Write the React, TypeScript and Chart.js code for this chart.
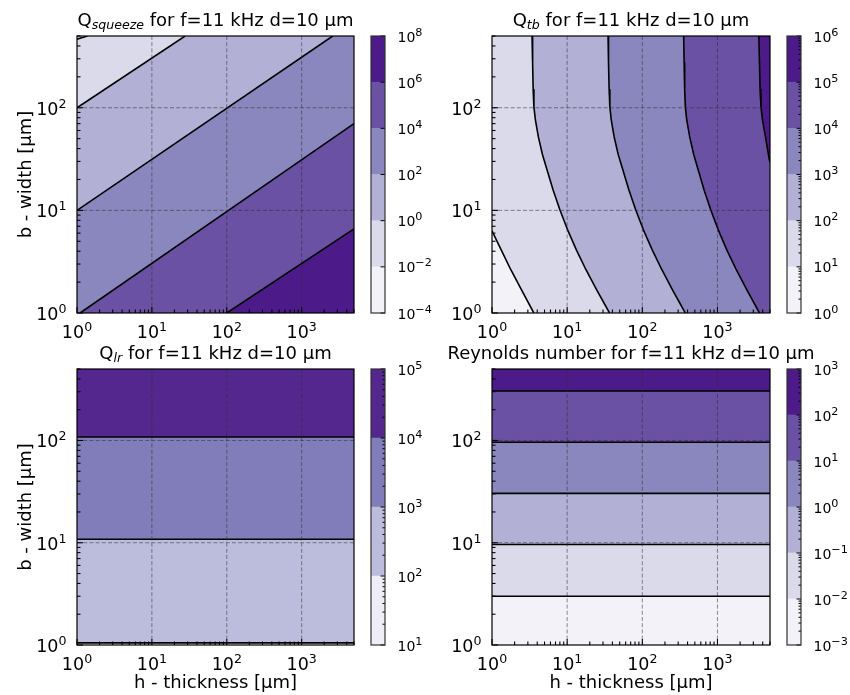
import React, { useEffect, useRef } from 'react';
import { Chart, registerables } from 'chart.js';

Chart.register(...registerables);

type Pt = [number, number];

const W = 850;
const HT = 695;
const FONT = '"DejaVu Sans", Verdana, sans-serif';

// ---- axis ranges and ticks ----
const H_MIN = 1;
const H_MAX = 5000;
const B_MIN = 1;
const B_MAX = 500;
const hTickExp = [0, 1, 2, 3];
const bTickExp = [0, 1, 2];
const minorMult = [2, 3, 4, 5, 6, 7, 8, 9];

// ---- Panel 1: Q_squeeze ----
const sqLevelExp = [-4, -2, 0, 2, 4, 6, 8];
const sqColors = ['#f3f2f8', '#dadaeb', '#b2b1d5', '#8a87bf', '#6a51a3', '#4d1a89'];
const sqLine0: Pt[] = [[1, 466], [1.38, 500]];
const sqLine1: Pt[] = [[1, 100], [27.8, 500]];
const sqLine2: Pt[] = [[1, 10], [2600, 500]];
const sqLine3: Pt[] = [[1.1, 1], [5000, 70]];
const sqLine4: Pt[] = [[100, 1], [5000, 6.6]];

// ---- Panel 2: Q_tb ----
const tbLevelExp = [0, 1, 2, 3, 4, 5, 6];
const tbColors = ['#f3f2f8', '#dadaeb', '#b2b1d5', '#8a87bf', '#6a51a3', '#4d1a89'];
const tbCurve1: Pt[] = [[1, 6.3], [1.33, 4.1], [1.78, 2.64], [2.46, 1.69], [3.6, 1]];
const tbCurve2: Pt[] = [[3.41, 500], [3.47, 274], [3.53, 150], [3.61, 102], [3.78, 76], [4.14, 52], [4.69, 35], [5.38, 25], [6.47, 16], [8.02, 10.1], [10.1, 6.5], [13.3, 4.1], [17.8, 2.64], [24.6, 1.69], [36.6, 1]];
const tbCurve3: Pt[] = [[35, 500], [35.5, 274], [36.2, 150], [37, 102], [38.6, 76], [42.2, 52], [47.8, 35], [54.9, 25], [66, 16], [81.8, 10.1], [103, 6.5], [136, 4.1], [182, 2.64], [251, 1.69], [373, 1]];
const tbCurve4: Pt[] = [[355, 500], [360, 274], [366, 150], [374, 102], [390, 76], [427, 52], [483, 35], [552, 25], [661, 16], [814, 10.1], [1020, 6.5], [1335, 4.1], [1780, 2.64], [2450, 1.69], [3620, 1]];
const tbCurve5: Pt[] = [[3550, 500], [3620, 274], [3690, 150], [3790, 102], [3970, 76], [4350, 52], [4900, 31], [5000, 29.5]];

// ---- Panel 3: Q_lr ----
const lrLevelExp = [1, 2, 3, 4, 5];
const lrColors = ['#efedf5', '#bcbddc', '#807dba', '#54278f'];
const lrContourB = [1.05, 10.8, 108];

// ---- Panel 4: Reynolds number ----
const reLevelExp = [-3, -2, -1, 0, 1, 2, 3];
const reColors = ['#f3f2f8', '#dadaeb', '#b2b1d5', '#8a87bf', '#6a51a3', '#4d1a89'];
const reContourB = [3.0, 9.6, 30.4, 96, 305];

// ---- layout (plot rectangles, colorbar x-extent) ----
const RECTS = [
  { l: 77, t: 36, r: 354, b: 313, cbl: 371, cbr: 385 },
  { l: 492, t: 36, r: 770, b: 313, cbl: 787, cbr: 801 },
  { l: 77, t: 369, r: 354, b: 645, cbl: 371, cbr: 385 },
  { l: 492, t: 369, r: 770, b: 645, cbl: 787, cbr: 801 },
];

const fullRect: Pt[] = [[H_MIN, B_MIN], [H_MIN, B_MAX], [H_MAX, B_MAX], [H_MAX, B_MIN]];
const belowRight = (line: Pt[]): Pt[] => [...line, [H_MAX, B_MAX], [H_MAX, B_MIN], [H_MIN, B_MIN]];
const rightOf = (line: Pt[]): Pt[] => [...line, [H_MAX, B_MIN], [H_MAX, B_MAX], [H_MIN, B_MAX]];
const above = (b: number): Pt[] => [[H_MIN, b], [H_MAX, b], [H_MAX, B_MAX], [H_MIN, B_MAX]];
const hLine = (b: number): Pt[] => [[H_MIN, b], [H_MAX, b]];

interface Spec {
  rect: typeof RECTS[number];
  titleMain: string;
  titleSub: string;
  titleRest: string;
  layers: Pt[][];
  colors: string[];
  lines: Pt[][];
  levelExp: number[];
  cbMinor: boolean;
  xLabel: boolean;
  yLabel: boolean;
}

const sqLines = [sqLine0, sqLine1, sqLine2, sqLine3, sqLine4];
const tbCurves = [tbCurve1, tbCurve2, tbCurve3, tbCurve4, tbCurve5];

const SPECS: Spec[] = [
  {
    rect: RECTS[0], titleMain: 'Q', titleSub: 'squeeze', titleRest: ' for f=11 kHz d=10 µm',
    layers: [fullRect, ...sqLines.map(belowRight)], colors: sqColors, lines: sqLines,
    levelExp: sqLevelExp, cbMinor: false, xLabel: false, yLabel: true,
  },
  {
    rect: RECTS[1], titleMain: 'Q', titleSub: 'tb', titleRest: ' for f=11 kHz d=10 µm',
    layers: [fullRect, ...tbCurves.map(rightOf)], colors: tbColors, lines: tbCurves,
    levelExp: tbLevelExp, cbMinor: true, xLabel: false, yLabel: false,
  },
  {
    rect: RECTS[2], titleMain: 'Q', titleSub: 'lr', titleRest: ' for f=11 kHz d=10 µm',
    layers: [fullRect, ...lrContourB.map(above)], colors: lrColors, lines: lrContourB.map(hLine),
    levelExp: lrLevelExp, cbMinor: true, xLabel: true, yLabel: true,
  },
  {
    rect: RECTS[3], titleMain: 'Reynolds number for f=11 kHz d=10 µm', titleSub: '', titleRest: '',
    layers: [fullRect, ...reContourB.map(above)], colors: reColors, lines: reContourB.map(hLine),
    levelExp: reLevelExp, cbMinor: true, xLabel: true, yLabel: false,
  },
];

function drawPow(ctx: CanvasRenderingContext2D, exp: number, x: number, y: number, size: number, align: 'left' | 'center' | 'right', ratio = 0.72, raise = 0.4) {
  const base = '10';
  const es = exp < 0 ? '\u2212' + String(-exp) : String(exp);
  const ss = size * ratio;
  ctx.font = `${size}px ${FONT}`;
  const wb = ctx.measureText(base).width;
  ctx.font = `${ss}px ${FONT}`;
  const we = ctx.measureText(es).width;
  const tot = wb + we;
  const x0 = align === 'left' ? x : align === 'center' ? x - tot / 2 : x - tot;
  ctx.textAlign = 'left';
  ctx.textBaseline = 'alphabetic';
  ctx.fillStyle = '#000';
  ctx.font = `${size}px ${FONT}`;
  ctx.fillText(base, x0, y);
  ctx.font = `${ss}px ${FONT}`;
  ctx.fillText(es, x0 + wb, y - size * raise);
}

function seg(ctx: CanvasRenderingContext2D, x1: number, y1: number, x2: number, y2: number) {
  ctx.beginPath();
  ctx.moveTo(x1, y1);
  ctx.lineTo(x2, y2);
  ctx.stroke();
}

function mainPlugin(spec: Spec) {
  return {
    id: 'mplAxes',
    afterDatasetsDraw(chart: any) {
      const { ctx, chartArea: a } = chart;
      const xs = chart.scales.x;
      const ys = chart.scales.y;
      ctx.save();
      // dashed grid
      ctx.setLineDash([4, 2.2]);
      ctx.lineWidth = 0.9;
      ctx.strokeStyle = 'rgba(45,45,45,0.6)';
      for (const e of hTickExp) {
        const v = 10 ** e;
        if (v <= H_MIN || v >= H_MAX) continue;
        const px = xs.getPixelForValue(v);
        seg(ctx, px, a.top, px, a.bottom);
      }
      for (const e of bTickExp) {
        const v = 10 ** e;
        if (v <= B_MIN || v >= B_MAX) continue;
        const py = ys.getPixelForValue(v);
        seg(ctx, a.left, py, a.right, py);
      }
      ctx.setLineDash([]);
      // inward ticks
      ctx.strokeStyle = '#000';
      ctx.lineWidth = 1.1;
      for (const e of hTickExp) {
        const px = xs.getPixelForValue(10 ** e);
        seg(ctx, px, a.bottom, px, a.bottom - 6);
      }
      for (let e = Math.floor(Math.log10(H_MIN)); e <= Math.floor(Math.log10(H_MAX)); e++) {
        for (const m of minorMult) {
          const v = m * 10 ** e;
          if (v <= H_MIN || v > H_MAX) continue;
          const px = xs.getPixelForValue(v);
          seg(ctx, px, a.bottom, px, a.bottom - 3.5);
        }
      }
      for (const e of bTickExp) {
        const py = ys.getPixelForValue(10 ** e);
        seg(ctx, a.left, py, a.left + 6, py);
      }
      for (let e = Math.floor(Math.log10(B_MIN)); e <= Math.floor(Math.log10(B_MAX)); e++) {
        for (const m of minorMult) {
          const v = m * 10 ** e;
          if (v <= B_MIN || v > B_MAX) continue;
          const py = ys.getPixelForValue(v);
          seg(ctx, a.left, py, a.left + 3.5, py);
        }
      }
      // frame
      ctx.lineWidth = 1.2;
      ctx.strokeRect(a.left, a.top, a.right - a.left, a.bottom - a.top);
      ctx.restore();
    },
    afterDraw(chart: any) {
      const { ctx, chartArea: a } = chart;
      const xs = chart.scales.x;
      const ys = chart.scales.y;
      ctx.save();
      for (const e of hTickExp) {
        drawPow(ctx, e, xs.getPixelForValue(10 ** e), a.bottom + 25, 17.5, 'center');
      }
      for (const e of bTickExp) {
        drawPow(ctx, e, a.left - 10.5, ys.getPixelForValue(10 ** e) + 7, 17.5, 'right');
      }
      // title
      const parts = [
        { t: spec.titleMain, f: `18px ${FONT}`, dy: 0 },
        { t: spec.titleSub, f: `italic 12.6px ${FONT}`, dy: 3.3 },
        { t: spec.titleRest, f: `18px ${FONT}`, dy: 0 },
      ].filter((p) => p.t.length > 0);
      let tot = 0;
      const widths = parts.map((p) => {
        ctx.font = p.f;
        const w = ctx.measureText(p.t).width;
        tot += w;
        return w;
      });
      let x = (a.left + a.right) / 2 - tot / 2;
      const ty = a.top - 10;
      ctx.fillStyle = '#000';
      ctx.textAlign = 'left';
      ctx.textBaseline = 'alphabetic';
      parts.forEach((p, i) => {
        ctx.font = p.f;
        ctx.fillText(p.t, x, ty + p.dy);
        x += widths[i];
      });
      ctx.font = `18px ${FONT}`;
      if (spec.xLabel) {
        ctx.textAlign = 'center';
        ctx.fillText('h - thickness [µm]', (a.left + a.right) / 2, a.bottom + 42.5);
      }
      if (spec.yLabel) {
        ctx.save();
        ctx.translate(a.left - 46.5, (a.top + a.bottom) / 2);
        ctx.rotate(-Math.PI / 2);
        ctx.textAlign = 'center';
        ctx.fillText('b - width [µm]', 0, 0);
        ctx.restore();
      }
      ctx.restore();
    },
  };
}

function cbPlugin(spec: Spec) {
  return {
    id: 'mplColorbar',
    afterDraw(chart: any) {
      const { ctx, chartArea: a } = chart;
      const ys = chart.scales.y;
      const ex = spec.levelExp;
      ctx.save();
      ctx.strokeStyle = '#000';
      ctx.lineWidth = 1;
      for (const e of ex) {
        const py = ys.getPixelForValue(10 ** e);
        seg(ctx, a.right, py, a.right - 4.5, py);
      }
      if (spec.cbMinor) {
        for (let e = ex[0]; e < ex[ex.length - 1]; e++) {
          for (const m of minorMult) {
            const py = ys.getPixelForValue(m * 10 ** e);
            seg(ctx, a.right, py, a.right - 2.5, py);
          }
        }
      }
      ctx.strokeStyle = '#333';
      ctx.lineWidth = 1.2;
      ctx.strokeRect(a.left, a.top, a.right - a.left, a.bottom - a.top);
      for (const e of ex) {
        drawPow(ctx, e, a.right + 12.5, ys.getPixelForValue(10 ** e) + 5.5, 14, 'left', 0.8, 0.42);
      }
      ctx.restore();
    },
  };
}

function makeMain(canvas: HTMLCanvasElement, spec: Spec) {
  const r = spec.rect;
  const layerSets = spec.layers.map((poly, i) => ({
    data: poly.map(([x, y]) => ({ x, y })),
    backgroundColor: spec.colors[i],
    borderColor: 'rgba(0,0,0,0)',
    borderWidth: 0,
    pointRadius: 0,
    fill: 'shape',
    tension: 0,
    order: 100 - i,
  }));
  const lineSets = spec.lines.map((ln) => ({
    data: ln.map(([x, y]) => ({ x, y })),
    borderColor: '#000',
    borderWidth: 1.6,
    borderJoinStyle: 'round',
    pointRadius: 0,
    fill: false,
    tension: 0,
    order: 0,
  }));
  return new Chart(canvas, {
    type: 'line',
    data: { datasets: [...layerSets, ...lineSets] as any },
    options: {
      responsive: false,
      animation: false,
      events: [],
      layout: { padding: { left: r.l, top: r.t, right: W - r.r, bottom: HT - r.b } },
      scales: {
        x: { type: 'logarithmic', min: H_MIN, max: H_MAX, display: false },
        y: { type: 'logarithmic', min: B_MIN, max: B_MAX, display: false },
      },
      plugins: { legend: { display: false }, tooltip: { enabled: false } },
    } as any,
    plugins: [mainPlugin(spec) as any],
  });
}

function makeCb(canvas: HTMLCanvasElement, spec: Spec) {
  const r = spec.rect;
  const ex = spec.levelExp;
  const datasets = spec.colors.map((c, i) => ({
    data: [[10 ** ex[i], 10 ** ex[i + 1]]],
    backgroundColor: c,
    borderWidth: 0,
    grouped: false,
    barPercentage: 1,
    categoryPercentage: 1,
  }));
  return new Chart(canvas, {
    type: 'bar',
    data: { labels: ['cb'], datasets: datasets as any },
    options: {
      responsive: false,
      animation: false,
      events: [],
      layout: { padding: { left: r.cbl, top: r.t, right: W - r.cbr, bottom: HT - r.b } },
      scales: {
        x: { display: false },
        y: { type: 'logarithmic', min: 10 ** ex[0], max: 10 ** ex[ex.length - 1], display: false },
      },
      plugins: { legend: { display: false }, tooltip: { enabled: false } },
    } as any,
    plugins: [cbPlugin(spec) as any],
  });
}

export default function App() {
  const refs = useRef<(HTMLCanvasElement | null)[]>([]);
  useEffect(() => {
    const charts: Chart[] = [];
    SPECS.forEach((spec, i) => {
      const c1 = refs.current[2 * i];
      const c2 = refs.current[2 * i + 1];
      if (c1) charts.push(makeMain(c1, spec));
      if (c2) charts.push(makeCb(c2, spec));
    });
    return () => charts.forEach((c) => c.destroy());
  }, []);
  return (
    <div style={{ position: 'absolute', left: 0, top: 0, width: W, height: HT, background: '#fff', overflow: 'hidden' }}>
      {Array.from({ length: 8 }).map((_, i) => (
        <canvas
          key={i}
          ref={(el) => {
            refs.current[i] = el;
          }}
          width={W}
          height={HT}
          style={{ position: 'absolute', left: 0, top: 0, width: W, height: HT }}
        />
      ))}
    </div>
  );
}
